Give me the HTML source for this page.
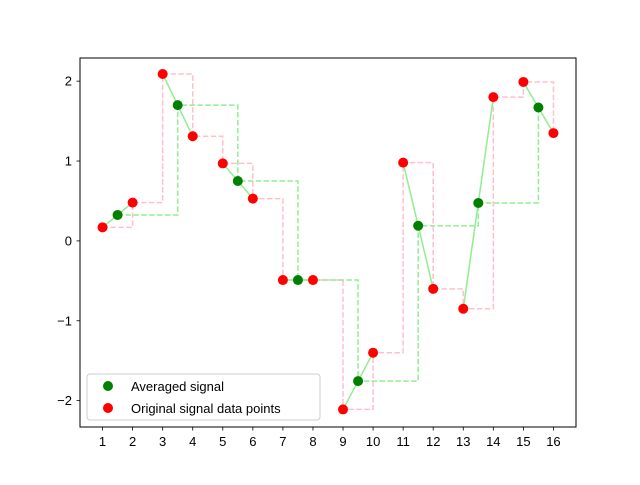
<!DOCTYPE html>
<html><head><meta charset="utf-8"><style>
body{margin:0;background:#fff;}
svg text{font-family:"Liberation Sans","DejaVu Sans",sans-serif;font-size:13px;fill:#000;}
</style></head><body>
<svg id="chart" width="640" height="480" viewBox="0 0 640 480">
<rect x="0" y="0" width="640" height="480" fill="#fff"/>
<g id="plot"></g>
<rect x="80" y="58" width="496" height="369" fill="none" stroke="#000" stroke-width="1"/>
<g id="xticks"></g><g id="yticks"></g>
<g>
<rect x="87" y="374" width="233" height="46" rx="3" fill="#fff" fill-opacity="0.8" stroke="#ccc"/>
<circle cx="108" cy="386" r="5" fill="#008000"/>
<text x="131" y="391">Averaged signal</text>
<circle cx="108" cy="408" r="5" fill="#ff0000"/>
<text x="131" y="413">Original signal data points</text>
</g>
</svg>
<script>
const origX=[1,2,3,4,5,6,7,8,9,10,11,12,13,14,15,16];
const origY=[0.17,0.48,2.09,1.31,0.97,0.53,-0.49,-0.49,-2.11,-1.40,0.98,-0.60,-0.85,1.80,1.99,1.35];
const avgX=[1.5,3.5,5.5,7.5,9.5,11.5,13.5,15.5];
const avgY=[0.325,1.70,0.75,-0.49,-1.755,0.19,0.475,1.67];
const xTicks=[1,2,3,4,5,6,7,8,9,10,11,12,13,14,15,16];
const yTicks=[-2,-1,0,1,2];
const NS="http://www.w3.org/2000/svg";
function sx(v){return 80+(v-0.25)*30.06;}
function sy(v){return 58+(2.29-v)*79.87;}
const plot=document.getElementById('plot');
function mk(t,a,p){const e=document.createElementNS(NS,t);for(const k in a)e.setAttribute(k,a[k]);(p||plot).appendChild(e);return e;}
function stepPath(xs,ys){let d='M'+sx(xs[0])+','+sy(ys[0]);for(let i=1;i<xs.length;i++){d+=' H'+sx(xs[i])+' V'+sy(ys[i]);}return d;}
let e=mk('path',{d:stepPath(origX,origY),fill:'none',stroke:'#ffc0cb','stroke-width':1.5,'stroke-dasharray':'5.5,2.4'});


e=mk('path',{d:stepPath(avgX,avgY),fill:'none',stroke:'#90ee90','stroke-width':1.5,'stroke-dasharray':'5.5,2.4'});


for(let i=0;i<avgX.length;i++){
  const d='M'+sx(origX[2*i])+','+sy(origY[2*i])+' L'+sx(avgX[i])+','+sy(avgY[i])+' L'+sx(origX[2*i+1])+','+sy(origY[2*i+1]);
  e=mk('path',{d:d,fill:'none',stroke:'#90ee90','stroke-width':1.5});
  
  
}
for(let i=0;i<avgX.length;i++){
  e=mk('circle',{cx:sx(avgX[i]),cy:sy(avgY[i]),r:5,fill:'#008000'});
  
  
}
for(let i=0;i<origX.length;i++){
  e=mk('circle',{cx:sx(origX[i]),cy:sy(origY[i]),r:5,fill:'#ff0000'});
  
  
}
const xg=document.getElementById('xticks');
xTicks.forEach(v=>{
  const x=sx(v);
  let t=mk('line',{x1:x,x2:x,y1:427,y2:430.5,stroke:'#000','stroke-width':0.8},xg);
  
  
  t=mk('text',{x:x,y:446,'text-anchor':'middle'},xg);t.textContent=v;
  
  
});
const yg=document.getElementById('yticks');
yTicks.forEach(v=>{
  const y=sy(v);
  let t=mk('line',{x1:76.5,x2:80,y1:y,y2:y,stroke:'#000','stroke-width':0.8},yg);
  
  
  t=mk('text',{x:72,y:y+4.5,'text-anchor':'end'},yg);t.textContent=(v<0?'\u2212'+(-v):v);
  
  
});
</script>
</body></html>
